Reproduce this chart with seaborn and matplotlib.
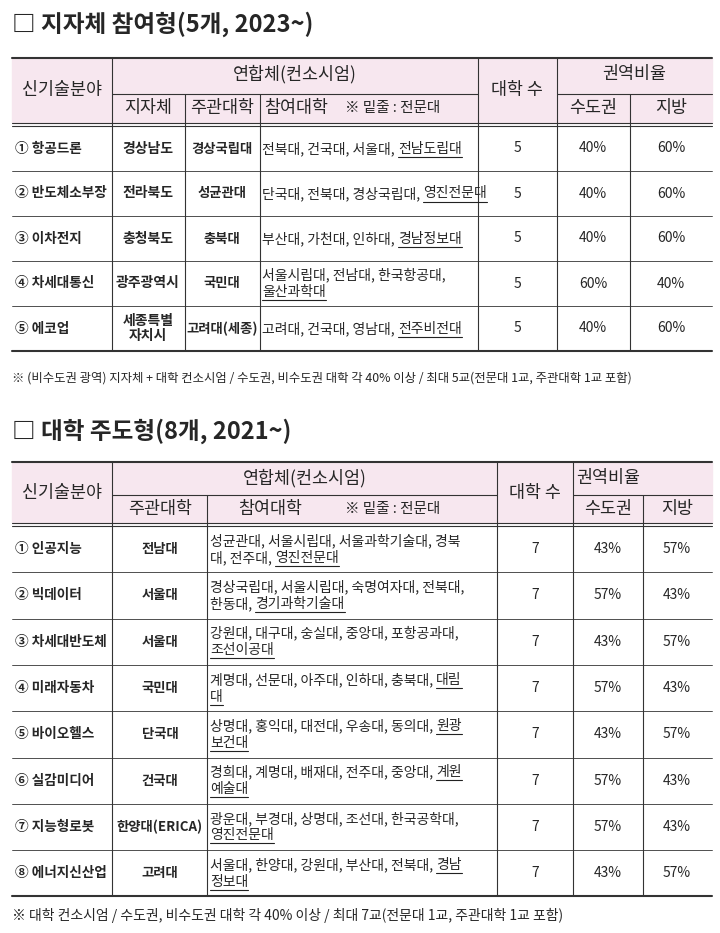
import matplotlib
matplotlib.use("Agg")
import matplotlib.pyplot as plt
import seaborn as sns

sns.set_theme(style="white")
plt.rcParams['font.family'] = ['Noto Sans CJK KR', 'DejaVu Sans']

# ---- data ----
title1 = "□ 지자체 참여형(5개, 2023~)"
fields1 = ["① 항공드론", "② 반도체소부장", "③ 이차전지", "④ 차세대통신", "⑤ 에코업"]
local1 = ["경상남도", "전라북도", "충청북도", "광주광역시", "세종특별\n자치시"]
lead1 = ["경상국립대", "성균관대", "충북대", "국민대", "고려대(세종)"]
part1 = ["전북대, 건국대, 서울대, |전남도립대", "단국대, 전북대, 경상국립대, |영진전문대",
         "부산대, 가천대, 인하대, |경남정보대", "서울시립대, 전남대, 한국항공대,\n|울산과학대",
         "고려대, 건국대, 영남대, |전주비전대"]
count1 = [5, 5, 5, 5, 5]
metro1 = ["40%", "40%", "40%", "60%", "40%"]
region1 = ["60%", "60%", "60%", "40%", "60%"]
note1 = "※ (비수도권 광역) 지자체 + 대학 컨소시엄 / 수도권, 비수도권 대학 각 40% 이상 / 최대 5교(전문대 1교, 주관대학 1교 포함)"

title2 = "□ 대학 주도형(8개, 2021~)"
fields2 = ["① 인공지능", "② 빅데이터", "③ 차세대반도체", "④ 미래자동차", "⑤ 바이오헬스",
           "⑥ 실감미디어", "⑦ 지능형로봇", "⑧ 에너지신산업"]
lead2 = ["전남대", "서울대", "서울대", "국민대", "단국대", "건국대", "한양대(ERICA)", "고려대"]
part2 = ["성균관대, 서울시립대, 서울과학기술대, 경북\n대, 전주대, |영진전문대",
         "경상국립대, 서울시립대, 숙명여자대, 전북대,\n한동대, |경기과학기술대",
         "강원대, 대구대, 숭실대, 중앙대, 포항공과대,\n|조선이공대",
         "계명대, 선문대, 아주대, 인하대, 충북대, |대림\n|대",
         "상명대, 홍익대, 대전대, 우송대, 동의대, |원광\n|보건대",
         "경희대, 계명대, 배재대, 전주대, 중앙대, |계원\n|예술대",
         "광운대, 부경대, 상명대, 조선대, 한국공학대,\n|영진전문대",
         "서울대, 한양대, 강원대, 부산대, 전북대, |경남\n|정보대"]
count2 = [7] * 8
metro2 = ["43%", "57%", "43%", "57%", "43%", "57%", "57%", "43%"]
region2 = ["57%", "43%", "57%", "43%", "57%", "43%", "43%", "57%"]
note2 = "※ 대학 컨소시엄 / 수도권, 비수도권 대학 각 40% 이상 / 최대 7교(전문대 1교, 주관대학 1교 포함)"

W, H = 720, 933
fig = plt.figure(figsize=(7.2, 9.33), dpi=100)
ax = fig.add_axes([0, 0, 1, 1])
ax.set_xlim(0, W); ax.set_ylim(H, 0); ax.axis("off")
PINK = "#F7E7EF"
FS = 10
HFS = 12.5
fig.canvas.draw()
rend = fig.canvas.get_renderer()

def px_width(t):
    w = ax.text(0, 0, t, fontsize=FS).get_window_extent(rend).width
    ax.texts[-1].remove()
    return w * W / fig.bbox.width

def hline(y, x0, x1, lw=0.8, double=False):
    ax.plot([x0, x1], [y, y], color="#333", lw=lw)
    if double:
        ax.plot([x0, x1], [y + 3, y + 3], color="#333", lw=lw)

def vline(x, y0, y1, lw=0.8):
    ax.plot([x, x], [y0, y1], color="#333", lw=lw)

def ctext(x, y, t, **kw):
    ax.text(x, y, t, ha="center", va="center", fontsize=kw.pop("fs", FS), **kw)

def part_text(x, yc, s, rowh):
    lines = s.split("\n")
    lh = 17
    y0 = yc - (len(lines) - 1) * lh / 2
    for i, ln in enumerate(lines):
        y = y0 + i * lh
        if "|" in ln:
            pre, ul = ln.split("|")
        else:
            pre, ul = ln, ""
        ax.text(x, y, pre, ha="left", va="center", fontsize=FS)
        if ul:
            wx = px_width(pre) if pre else 0
            ax.text(x + wx, y, ul, ha="left", va="center", fontsize=FS)
            uw = px_width(ul)
            ax.plot([x + wx, x + wx + uw], [y + 8, y + 8], color="#222", lw=0.8)

# ---- table 1 ----
ax.text(12, 24, title1, fontsize=17, fontweight="bold", va="center")
cx = [12, 112, 185, 260, 478, 557, 630, 712]
top, hmid, hbot = 58, 94, 123
rh = 45
ax.add_patch(plt.Rectangle((cx[0], top), cx[-1] - cx[0], hbot - top, color=PINK, zorder=0))
hline(top, cx[0], cx[-1], 1.5)
hline(hmid, cx[1], cx[4]); hline(hmid, cx[5], cx[7])
hline(hbot, cx[0], cx[-1], double=True)
ymax = hbot + 3 + rh * 5
for c in cx[1:-1]:
    y0 = hmid if c in (185, 260, 630) else top
    vline(c, y0, ymax)
hline(ymax, cx[0], cx[-1], 1.5)
ctext(62, 90, "신기술분야", fs=HFS)
ctext((112 + 478) / 2, 74, "연합체(컨소시엄)", fs=HFS)
ctext(148, 108, "지자체", fs=HFS); ctext(222, 108, "주관대학", fs=HFS)
ax.text(264, 108, "참여대학", fontsize=HFS, va="center")
ax.text(345, 108, "※ 밑줄 : 전문대", fontsize=10.5, va="center")
ctext(517, 90, "대학 수", fs=HFS)
ctext(634, 74, "권역비율", fs=HFS)
ctext(593, 108, "수도권", fs=HFS); ctext(671, 108, "지방", fs=HFS)
for i in range(5):
    y0 = hbot + 3 + i * rh
    yc = y0 + rh / 2
    if i > 0:
        hline(y0, cx[0], cx[-1], 0.6)
    ax.text(15, yc, fields1[i], fontsize=9.8, va="center", fontweight="bold")
    ctext(148, yc, local1[i], fontweight="bold", linespacing=1.1)
    ctext(222, yc, lead1[i], fontweight="bold", fs=9.6)
    part_text(262, yc, part1[i], rh)
    ctext(517, yc, str(count1[i])); ctext(593, yc, metro1[i]); ctext(671, yc, region1[i])
ax.text(12, 378, note1, fontsize=8.9, va="center")

# ---- table 2 ----
ax.text(12, 431, title2, fontsize=17, fontweight="bold", va="center")
cx2 = [12, 112, 207, 497, 573, 643, 712]
top, hmid, hbot = 462, 495, 523
rh = 46.3
ax.add_patch(plt.Rectangle((cx2[0], top), cx2[-1] - cx2[0], hbot - top, color=PINK, zorder=0))
hline(top, cx2[0], cx2[-1], 1.5)
hline(hmid, cx2[1], cx2[3]); hline(hmid, cx2[4], cx2[6])
hline(hbot, cx2[0], cx2[-1], double=True)
ymax = hbot + 3 + rh * 8
for c in cx2[1:-1]:
    y0 = hmid if c in (207, 643) else top
    vline(c, y0, ymax)
hline(ymax, cx2[0], cx2[-1], 1.5)
ctext(62, 493, "신기술분야", fs=HFS)
ctext((112 + 497) / 2, 478, "연합체(컨소시엄)", fs=HFS)
ctext(160, 509, "주관대학", fs=HFS)
ax.text(238, 509, "참여대학", fontsize=HFS, va="center")
ax.text(345, 509, "※ 밑줄 : 전문대", fontsize=10.5, va="center")
ctext(535, 493, "대학 수", fs=HFS)
ctext(608, 478, "권역비율", fs=HFS)
ctext(608, 509, "수도권", fs=HFS); ctext(677, 509, "지방", fs=HFS)
for i in range(8):
    y0 = hbot + 3 + i * rh
    yc = y0 + rh / 2
    if i > 0:
        hline(y0, cx2[0], cx2[-1], 0.6)
    ax.text(15, yc, fields2[i], fontsize=9.8, va="center", fontweight="bold")
    ctext(160, yc, lead2[i], fontweight="bold", fs=9.6)
    part_text(210, yc, part2[i], rh)
    ctext(535, yc, str(count2[i])); ctext(608, yc, metro2[i]); ctext(677, yc, region2[i])
ax.text(12, 915, note2, fontsize=10, va="center")

fig.savefig("out.png", dpi=100, facecolor="white")
